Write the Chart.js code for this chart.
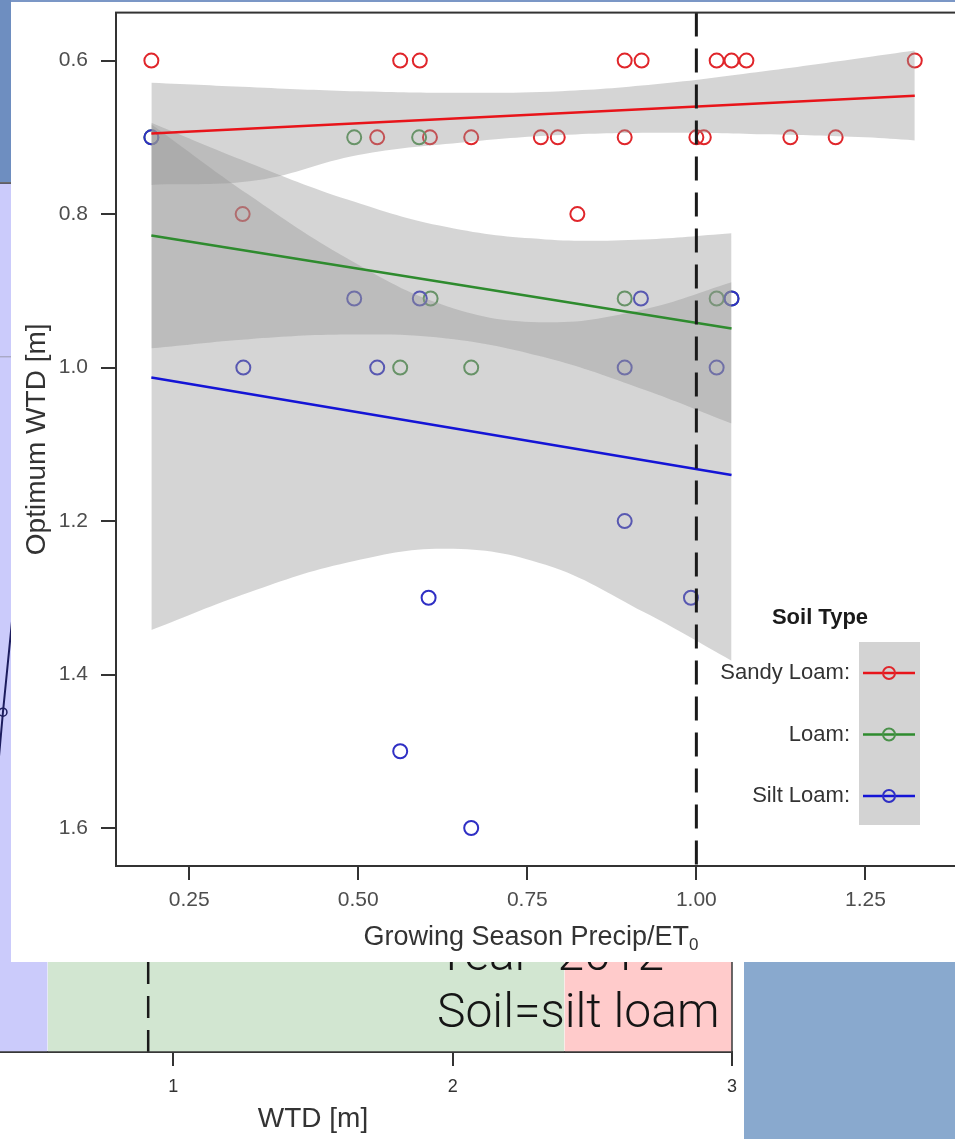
<!DOCTYPE html>
<html lang="en">
<head>
<meta charset="utf-8">
<title>Optimum WTD by soil type</title>
<script src="https://cdn.jsdelivr.net/npm/chart.js@4.4.1/dist/chart.umd.min.js"></script>
<style>
  html, body { margin: 0; padding: 0; }
  body { position: relative; width: 955px; height: 1139px; overflow: hidden; background: #fff;
         font-family: "Liberation Sans", Arial, sans-serif; }
  #slideTop { position: absolute; left: 0; top: 0; width: 955px; height: 2px; background: #7b97c6; z-index: 3; }
  #slideLeft { position: absolute; left: 0; top: 0; width: 11px; height: 182px; background: #6e8ec0; z-index: 3; }
  #slideCorner { position: absolute; left: 744px; top: 962px; width: 211px; height: 177px; background: #89a9ce; z-index: 3; }
  #wtdWrap { position: absolute; left: -106px; top: 170px; width: 866px; height: 969px; z-index: 1; }
  #caption { position: absolute; left: 437px; top: 925px; font: 300 48px/57px Roboto, sans-serif;
             color: #151515; z-index: 2; white-space: nowrap; }
  #panel { position: absolute; left: 11px; top: 2px; width: 1000px; height: 960px; background: #fff;
           z-index: 4; overflow: hidden; }
  #optChart { position: absolute; left: 0; top: -15px; }
  #xTitle { position: absolute; left: 220px; top: 918px; width: 600px; text-align: center;
            font-size: 27px; line-height: 32px; color: #333; }
  #xTitle sub { font-size: 17px; vertical-align: -5px; line-height: 0; }
</style>
</head>
<body>
<div id="slideTop"></div>
<div id="slideLeft"></div>
<div id="wtdWrap"><canvas id="wtdChart" width="866" height="969"></canvas></div>
<div id="caption">Year=2012<br>Soil=silt loam</div>
<div id="slideCorner"></div>
<div id="panel">
  <canvas id="optChart" width="1000" height="975"></canvas>
  <div id="xTitle">Growing Season Precip/ET<sub>0</sub></div>
</div>

<script>
// ---- scatter: optimum WTD against precip/ET0 ----
const soilTypes = ['Sandy Loam', 'Loam', 'Silt Loam'];
const xTicks = [0.25, 0.50, 0.75, 1.00, 1.25];
const yTicks = [0.6, 0.8, 1.0, 1.2, 1.4, 1.6];
const xRange = [0.1417, 1.452];
const yRange = [0.5375, 1.6495];
const refRatio = 1.0;

// Sandy Loam
const sandyX = [0.194, 0.562, 0.591, 0.894, 0.919, 1.030, 1.052, 1.074, 1.323,
                0.528, 0.606, 0.667, 0.770, 0.795, 0.894, 1.000, 1.011, 1.139, 1.206,
                0.329, 0.824];
const sandyY = [0.6, 0.6, 0.6, 0.6, 0.6, 0.6, 0.6, 0.6, 0.6,
                0.7, 0.7, 0.7, 0.7, 0.7, 0.7, 0.7, 0.7, 0.7, 0.7,
                0.8, 0.8];
// Loam
const loamX = [0.194, 0.494, 0.590, 0.607, 0.894, 1.030, 1.052, 0.562, 0.667];
const loamY = [0.7, 0.7, 0.7, 0.91, 0.91, 0.91, 0.91, 1.0, 1.0];
// Silt Loam
const siltX = [0.194, 0.494, 0.591, 0.918, 1.052, 0.330, 0.528, 0.894, 1.030,
               0.894, 0.604, 0.992, 0.562, 0.667];
const siltY = [0.7, 0.91, 0.91, 0.91, 0.91, 1.0, 1.0, 1.0, 1.0,
               1.2, 1.3, 1.3, 1.5, 1.6];

// fitted lines (end points)
const sandyFitX = [0.194, 1.323];
const sandyFitY = [0.695, 0.646];
const loamFitX = [0.194, 1.052];
const loamFitY = [0.828, 0.949];
const siltFitX = [0.194, 1.052];
const siltFitY = [1.013, 1.140];

// confidence bands
const sandyBandX = [0.194, 0.35, 0.50, 0.65, 0.80, 0.95, 1.10, 1.25, 1.323];
const sandyCiLow = [0.629, 0.635, 0.640, 0.642, 0.640, 0.630, 0.614, 0.596, 0.587];
const sandyCiHigh = [0.762, 0.756, 0.723, 0.707, 0.697, 0.694, 0.696, 0.700, 0.704];
const loamBandX = [0.194, 0.338, 0.484, 0.631, 0.777, 0.923, 1.052];
const loamCiLow = [0.681, 0.733, 0.781, 0.817, 0.833, 0.833, 0.825];
const loamCiHigh = [0.975, 0.963, 0.957, 0.962, 0.987, 1.029, 1.073];
const siltBandX = [0.194, 0.338, 0.484, 0.631, 0.777, 0.923, 1.052];
const siltCiLow = [0.683, 0.775, 0.858, 0.920, 0.941, 0.924, 0.889];
const siltCiHigh = [1.342, 1.293, 1.254, 1.236, 1.257, 1.319, 1.382];

// ---- background panel: WTD axis ----
const wtdTicks = [1, 2, 3];
const wtdRange = [0, 3];
const zoneEdges = [0, 0.55, 2.40, 3.0];
const wtdOptimum = 0.91;
const levelLine = 0.80;
const traceX = [0.362, 0.390, 0.430];
const traceY = [0.290, 0.391, 0.520];

const pointColors = ['#e0262b', '#4a914a', '#2f2fc4'];
const lineColors = ['#e8141a', '#2e8b2e', '#1414d6'];
const bandFill = 'rgba(150, 150, 150, 0.40)';
const zoneColors = ['#cbcbfb', '#d2e6d1', '#ffcbcb'];
const FONT = '"Liberation Sans", Arial, sans-serif';

function pairs(xs, ys) {
    return xs.map((x, i) => ({ x: x, y: ys[i] }));
}

// outline of the plotting region
const framePlugin = {
    id: 'frame',
    afterDatasetsDraw(chart, args, opts) {
        const { ctx, chartArea: a } = chart;
        ctx.save();
        ctx.strokeStyle = opts.color || '#333';
        ctx.lineWidth = opts.width || 2;
        ctx.strokeRect(a.left, a.top, a.right - a.left, a.bottom - a.top);
        ctx.restore();
    }
};

// "Soil Type" key on the right of the scatter
const soilLegend = {
    id: 'soilLegend',
    afterDraw(chart) {
        const ctx = chart.ctx;
        ctx.save();
        ctx.fillStyle = '#d3d3d3';
        ctx.fillRect(848, 655, 61, 183);
        ctx.fillStyle = '#1a1a1a';
        ctx.font = 'bold 22px ' + FONT;
        ctx.textAlign = 'center';
        ctx.textBaseline = 'middle';
        ctx.fillText('Soil Type', 809, 631);
        ctx.font = '22px ' + FONT;
        ctx.textAlign = 'right';
        soilTypes.forEach((name, i) => {
            const y = 686 + i * 61.5;
            ctx.fillStyle = '#333';
            ctx.fillText(name + ':', 839, y);
            ctx.strokeStyle = lineColors[i];
            ctx.lineWidth = 2.5;
            ctx.beginPath();
            ctx.moveTo(852, y);
            ctx.lineTo(904, y);
            ctx.stroke();
            ctx.strokeStyle = pointColors[i];
            ctx.lineWidth = 2;
            ctx.beginPath();
            ctx.arc(878, y, 6, 0, Math.PI * 2);
            ctx.stroke();
        });
        ctx.restore();
    }
};

// silt loam circles sit on top of the other two groups
function pointSet(label, xs, ys, i) {
    return {
        label: label, data: pairs(xs, ys), showLine: false, order: 5 - i,
        pointRadius: 7, pointHoverRadius: 7, pointBorderWidth: 2,
        pointBorderColor: pointColors[i], pointBackgroundColor: 'transparent'
    };
}
function bandSet(xs, ys, fill) {
    return {
        data: pairs(xs, ys), order: 2, borderWidth: 0, pointRadius: 0, tension: 0.4,
        fill: fill, backgroundColor: bandFill, borderColor: 'transparent'
    };
}
function fitSet(xs, ys, i) {
    return {
        data: pairs(xs, ys), order: 1, borderWidth: 2.5, pointRadius: 0,
        borderColor: lineColors[i], fill: false
    };
}

const optDatasets = [
    pointSet(soilTypes[0], sandyX, sandyY, 0),
    pointSet(soilTypes[1], loamX, loamY, 1),
    pointSet(soilTypes[2], siltX, siltY, 2),
    bandSet(sandyBandX, sandyCiLow, '+1'), bandSet(sandyBandX, sandyCiHigh, false),
    bandSet(loamBandX, loamCiLow, '+1'), bandSet(loamBandX, loamCiHigh, false),
    bandSet(siltBandX, siltCiLow, '+1'), bandSet(siltBandX, siltCiHigh, false),
    fitSet(sandyFitX, sandyFitY, 0),
    fitSet(loamFitX, loamFitY, 1),
    fitSet(siltFitX, siltFitY, 2),
    {
        data: [{ x: refRatio, y: yRange[0] }, { x: refRatio, y: yRange[1] }],
        order: 0, borderColor: '#1a1a1a', borderWidth: 3, borderDash: [24, 12],
        pointRadius: 0, fill: false
    }
];

new Chart(document.getElementById('optChart'), {
    type: 'line',
    data: { datasets: optDatasets },
    options: {
        responsive: false,
        animation: false,
        devicePixelRatio: 1,
        layout: { padding: { top: 10, left: 0, right: 0, bottom: 0 } },
        plugins: { legend: { display: false }, tooltip: { enabled: false }, frame: { color: '#333', width: 2 } },
        scales: {
            x: {
                type: 'linear', min: xRange[0], max: xRange[1],
                afterBuildTicks: s => { s.ticks = xTicks.map(v => ({ value: v })); },
                afterFit: s => { s.height = 96; },
                ticks: { font: { family: FONT, size: 21 }, color: '#4d4d4d', padding: 8,
                         callback: v => v.toFixed(2), maxRotation: 0 },
                grid: { drawOnChartArea: false, drawTicks: true, tickLength: 14, color: '#333', lineWidth: 2 },
                border: { display: true, color: '#333', width: 2 }
            },
            y: {
                type: 'linear', reverse: true, min: yRange[0], max: yRange[1],
                afterBuildTicks: s => { s.ticks = yTicks.map(v => ({ value: v })); },
                afterFit: s => { s.width = 105; },
                ticks: { font: { family: FONT, size: 21 }, color: '#4d4d4d', padding: 13,
                         callback: v => v.toFixed(1) },
                grid: { drawOnChartArea: false, drawTicks: true, tickLength: 15, color: '#333', lineWidth: 2 },
                border: { display: true, color: '#333', width: 2 },
                title: { display: true, text: 'Optimum WTD [m]', color: '#333',
                         font: { family: FONT, size: 28 }, padding: { top: 9, bottom: 0 } }
            }
        }
    },
    plugins: [framePlugin, soilLegend]
});

// ---- background WTD panel ----
const zoneSets = zoneColors.map((c, i) => ({
    data: [{ x: zoneEdges[i], y: 1 }, { x: zoneEdges[i + 1], y: 1 }],
    fill: 'start', backgroundColor: c, borderWidth: 0, pointRadius: 0, order: 5
}));

new Chart(document.getElementById('wtdChart'), {
    type: 'line',
    data: {
        datasets: zoneSets.concat([
            {
                data: [{ x: zoneEdges[0], y: levelLine }, { x: zoneEdges[1], y: levelLine }],
                borderColor: '#9a9ab0', borderWidth: 1, pointRadius: 0, order: 3
            },
            {
                data: [{ x: wtdOptimum, y: 0 }, { x: wtdOptimum, y: 1 }],
                borderColor: '#1a1a1a', borderWidth: 2.5, borderDash: [22, 12], pointRadius: 0, order: 2
            },
            {
                data: pairs(traceX, traceY), borderColor: '#1d1d5e', borderWidth: 2,
                pointRadius: [0, 4, 0], pointBorderColor: '#1d1d5e', pointBackgroundColor: 'transparent',
                pointBorderWidth: 1.5, order: 1
            }
        ])
    },
    options: {
        responsive: false,
        animation: false,
        devicePixelRatio: 1,
        layout: { padding: { top: 13, left: 0, right: 28, bottom: 0 } },
        plugins: { legend: { display: false }, tooltip: { enabled: false }, frame: { color: '#3a3a3a', width: 1.5 } },
        scales: {
            x: {
                type: 'linear', min: wtdRange[0], max: wtdRange[1],
                afterBuildTicks: s => { s.ticks = wtdTicks.map(v => ({ value: v })); },
                afterFit: s => { s.height = 87; },
                ticks: { font: { family: FONT, size: 18 }, color: '#333', padding: 10 },
                grid: { drawOnChartArea: false, drawTicks: true, tickLength: 14, color: '#333', lineWidth: 2 },
                border: { display: true, color: '#333', width: 2 },
                title: { display: true, text: 'WTD [m]', color: '#333',
                         font: { family: FONT, size: 28 }, padding: { top: 0, bottom: 3 } }
            },
            y: { type: 'linear', min: 0, max: 1, display: false }
        }
    },
    plugins: [framePlugin]
});
</script>
</body>
</html>
